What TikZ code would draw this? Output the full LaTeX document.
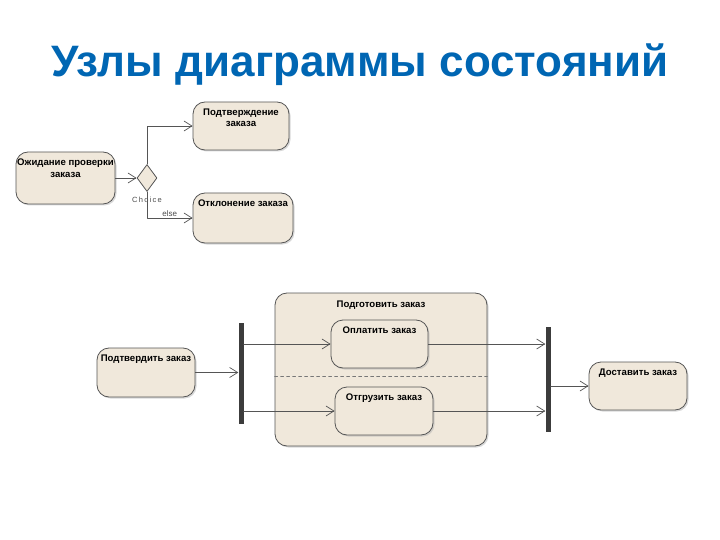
\documentclass[tikz,border=0pt]{standalone}
\usepackage{fontspec}
\setmainfont{Liberation Sans}
\usetikzlibrary{arrows.meta,shadows,shapes.geometric}
\definecolor{titleblue}{RGB}{0,102,179}
\definecolor{statefill}{RGB}{240,232,219}
\definecolor{stateline}{RGB}{85,85,85}
\definecolor{barcolor}{RGB}{60,60,60}
\tikzset{
  state/.style={draw=stateline, line width=0.8pt, rounded corners=12pt, fill=statefill,
    drop shadow={shadow xshift=1.5pt, shadow yshift=-1.5pt, fill=black!30}, inner sep=0pt},
  statetext/.style={anchor=north, inner sep=0pt, yshift=-7pt, align=center,
    font=\fontsize{9.6}{11.5}\selectfont\bfseries},
  bar/.style={fill=barcolor, minimum width=5pt, inner sep=0pt},
  flow/.style={draw=stateline, line width=0.7pt, -{Straight Barb[length=8pt,width=10pt]}},
}
\begin{document}
\begin{tikzpicture}[x=1pt, y=-1pt, line join=round, line cap=round]
\useasboundingbox (0,0) rectangle (720,540);
% title
\node[font=\fontsize{44}{50}\selectfont\bfseries, text=titleblue] (title) at (360,65) {Узлы диаграммы состояний};
% choice part
\node[state, minimum width=99pt, minimum height=52pt, label={[statetext]north:Ожидание проверки\\заказа}] (wait) at (65.5,178) {};
\node[diamond, draw=stateline, line width=0.8pt, fill=statefill, minimum width=20pt, minimum height=27pt, inner sep=0pt,
  label={[font=\fontsize{7.5}{8}\selectfont, text=black!70, label distance=2pt]below:C\,h\,o\,i\,c\,e}] (choice) at (147,178) {};
\node[state, minimum width=96pt, minimum height=48pt, label={[statetext]north:Подтверждение\\заказа}] (confirm) at (241,126) {};
\node[state, minimum width=100pt, minimum height=50pt, label={[statetext]north:Отклонение заказа}] (reject) at (243,218) {};
\draw[flow] (wait.east) -- (choice.west);
\draw[flow] (choice.north) |- (confirm.west);
\draw[flow] (choice.south) |- node[pos=0.75, above, font=\fontsize{8}{9}\selectfont, text=black!70, inner sep=1.5pt] {else} (reject.west);
% fork / join part
\node[state, minimum width=98pt, minimum height=49pt, label={[statetext]north:Подтвердить заказ}] (approve) at (146,372.5) {};
\node[bar, minimum height=101pt] (fork) at (241,373) {};
\node[state, minimum width=212pt, minimum height=153pt, label={[statetext, yshift=-1pt]north:Подготовить заказ}] (prepare) at (381,369.5) {};
\draw[stateline!80, dashed, line width=0.6pt] (prepare.west |- 0,376) -- (prepare.east |- 0,376);
\node[state, minimum width=97pt, minimum height=48pt, label={[statetext]north:Оплатить заказ}] (pay) at (379.5,344) {};
\node[state, minimum width=98pt, minimum height=48pt, label={[statetext]north:Отгрузить заказ}] (ship) at (384,411) {};
\node[bar, minimum height=105pt] (join) at (548,379.5) {};
\node[state, minimum width=98pt, minimum height=48pt, label={[statetext]north:Доставить заказ}] (deliver) at (638,386) {};
\draw[flow] (approve.east) -- (approve.east -| fork.west);
\draw[flow] (fork.east |- pay.west) -- (pay.west);
\draw[flow] (fork.east |- ship.west) -- (ship.west);
\draw[flow] (pay.east) -- (pay.east -| join.west);
\draw[flow] (ship.east) -- (ship.east -| join.west);
\draw[flow] (join.east |- deliver.west) -- (deliver.west);
\end{tikzpicture}
\end{document}
